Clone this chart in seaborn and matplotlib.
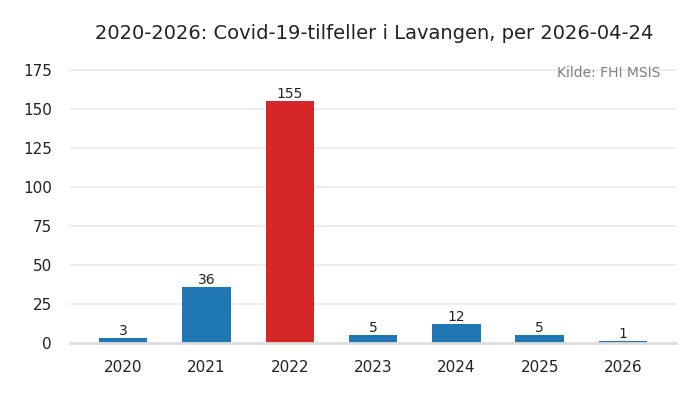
"""Covid-19 cases in Lavangen per year."""
import numpy as np
import pandas as pd
import seaborn as sns

from matplotlib import pyplot as plt


years = ["2020", "2021", "2022", "2023", "2024", "2025", "2026"]
cases = [3, 36, 155, 5, 12, 5, 1]
bar_colors = ["#1f77b4", "#1f77b4", "#d62728", "#1f77b4", "#1f77b4", "#1f77b4", "#1f77b4"]


def make_plot():
    """Draw the bar chart."""
    df = pd.DataFrame({"year": years, "cases": cases})

    sns.set_theme(style="whitegrid")
    plt.rcParams["font.family"] = ["DejaVu Sans"]

    fig = plt.figure(figsize=(7, 4), dpi=100)
    ax = fig.add_axes([0.1, 0.1425, 0.866, 0.7215])

    sns.barplot(
        data=df, x="year", y="cases", hue="year",
        palette=bar_colors, width=0.58, saturation=1,
        legend=False, linewidth=0, ax=ax,
    )
    for container in ax.containers:
        ax.bar_label(container, fontsize=10, color="#222222", padding=0)

    ax.set_xlim(-0.64, 6.64)
    ax.set_ylim(0, 185)
    ax.set_yticks(np.arange(0, 176, 25))
    ax.set_xlabel("")
    ax.set_ylabel("")
    ax.grid(axis="y", color="#ebebeb", linewidth=1.2)
    ax.grid(axis="x", visible=False)
    ax.tick_params(axis="both", labelsize=11, length=0, colors="#222222")
    ax.tick_params(axis="x", pad=12)
    ax.tick_params(axis="y", pad=13)

    for side in ["left", "right", "top"]:
        ax.spines[side].set_visible(False)
    ax.spines["bottom"].set_color("#dddddd")
    ax.spines["bottom"].set_linewidth(2)

    ax.text(0.974, 0.96, "Kilde: FHI MSIS", transform=ax.transAxes,
            ha="right", va="top", fontsize=10, color="#808080")
    fig.suptitle("2020-2026: Covid-19-tilfeller i Lavangen, per 2026-04-24",
                 x=0.535, y=0.94, fontsize=14, color="#222222")

    fig.savefig("out.png", facecolor="w")
    plt.close("all")


if __name__ == '__main__':
    make_plot()
